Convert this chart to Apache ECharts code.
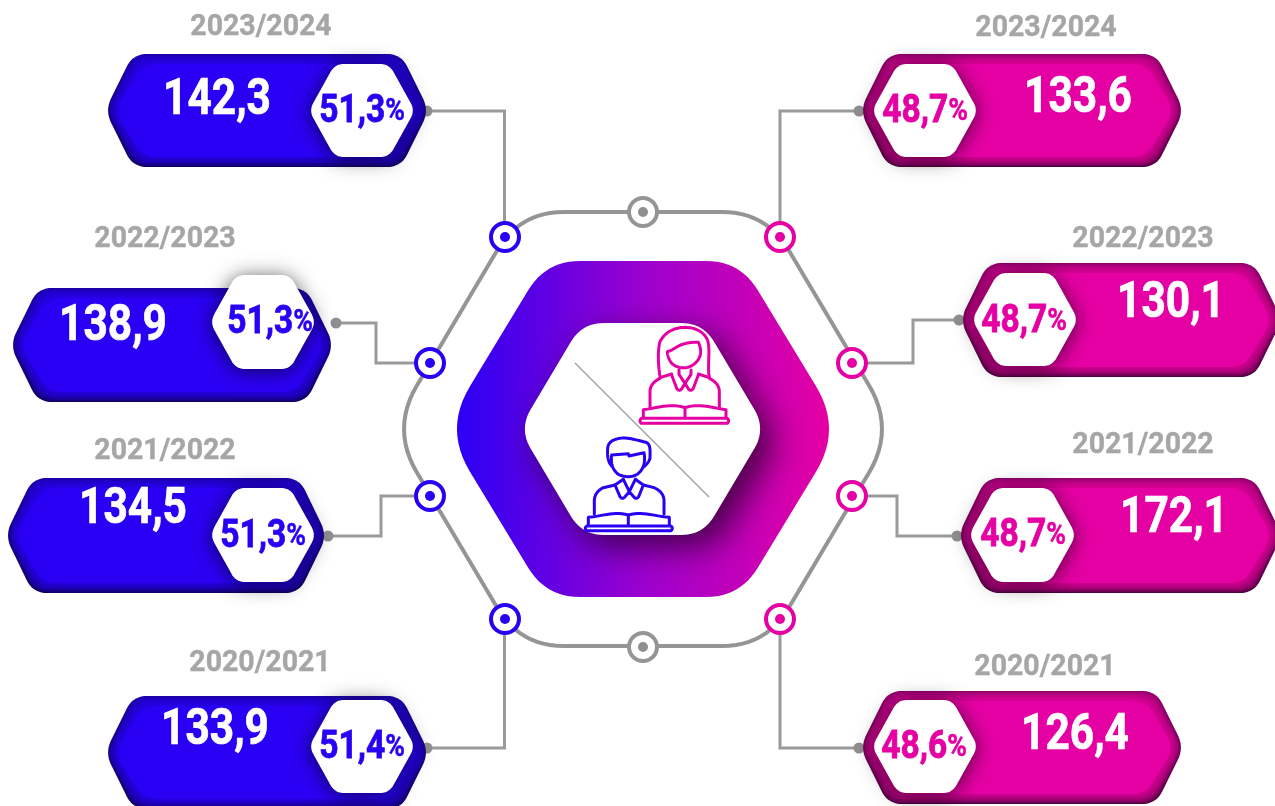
<!DOCTYPE html>
<html><head><meta charset="utf-8">
<style>html,body{margin:0;padding:0;background:#fff;overflow:hidden}#c{width:1275px;height:806px}</style>
<script src="https://cdn.jsdelivr.net/npm/echarts@6/dist/echarts.min.js"></script>
</head><body><div id="c"></div>
<script>
// ---- data ----
const years = ['2023/2024', '2022/2023', '2021/2022', '2020/2021'];
const blueValues = [142.3, 138.9, 134.5, 133.9];
const bluePercents = [51.3, 51.3, 51.3, 51.4];
const pinkValues = [133.6, 130.1, 172.1, 126.4];
const pinkPercents = [48.7, 48.7, 48.7, 48.6];

// ---- layout (boxes are x0,x1,y0,y1; centres are x,y) ----
const blueLayout = [
  {box:[108,426,54,167], hex:[311,413,64,157], val:[217,101], pct:[362,112], yr:[261,27]},
  {box:[13,331,288,402], hex:[212,314,275,369], val:[113,327], pct:[270,323], yr:[165,239]},
  {box:[8,324,478,593], hex:[212,314,488,582], val:[133,510], pct:[263,537], yr:[165,451]},
  {box:[108,426,696,809], hex:[311,413,700,793], val:[215,731], pct:[362,748], yr:[260,663]}
];
const pinkLayout = [
  {box:[863,1181,54,167], hex:[874,976,64,157], val:[1078,99], pct:[925,112], yr:[1046,28]},
  {box:[963,1279,263,377], hex:[974,1076,273,366], val:[1171,304], pct:[1024,322], yr:[1143,239]},
  {box:[961,1279,478,593], hex:[971,1074,488,582], val:[1174,519], pct:[1023,536], yr:[1143,445]},
  {box:[863,1181,691,804], hex:[874,976,700,793], val:[1075,736], pct:[924,748], yr:[1045,667]}
];
const BLUE = '#2a00f5', PINK = '#e500a3', GRAY = '#959595';

// ---- geometry helpers ----
function flatten(d) {
  const t = d.match(/[MLQCZ]|-?[\d.]+/g), subs = []; let cur = null, i = 0, cmd, p = [0,0];
  const n = () => +t[i++];
  while (i < t.length) {
    if (/[MLQCZ]/.test(t[i])) cmd = t[i++];
    if (cmd === 'M') { cur = []; subs.push(cur); p = [n(), n()]; cur.push(p); cmd = 'L'; }
    else if (cmd === 'L') { p = [n(), n()]; cur.push(p); }
    else if (cmd === 'Q') {
      const a = [n(),n()], b = [n(),n()], s = p;
      for (let k = 1; k <= 10; k++) { const u = k/10, v = 1-u; cur.push([v*v*s[0]+2*u*v*a[0]+u*u*b[0], v*v*s[1]+2*u*v*a[1]+u*u*b[1]]); }
      p = b;
    } else if (cmd === 'C') {
      const a = [n(),n()], b = [n(),n()], c = [n(),n()], s = p;
      for (let k = 1; k <= 14; k++) { const u = k/14, v = 1-u; cur.push([
        v*v*v*s[0]+3*u*v*v*a[0]+3*u*u*v*b[0]+u*u*u*c[0],
        v*v*v*s[1]+3*u*v*v*a[1]+3*u*u*v*b[1]+u*u*u*c[1]]); }
      p = c;
    } else if (cmd === 'Z') { cur.push(cur[0]); }
  }
  return subs;
}
function rounded(verts, ds) {
  const out = [], N = verts.length;
  for (let i = 0; i < N; i++) {
    const v = verts[i], a = verts[(i+N-1)%N], b = verts[(i+1)%N], d = ds[i];
    const la = Math.hypot(a[0]-v[0],a[1]-v[1]), lb = Math.hypot(b[0]-v[0],b[1]-v[1]);
    const s = [v[0]+(a[0]-v[0])*d/la, v[1]+(a[1]-v[1])*d/la], e = [v[0]+(b[0]-v[0])*d/lb, v[1]+(b[1]-v[1])*d/lb];
    for (let k = 0; k <= 12; k++) { const u = k/12, w = 1-u; out.push([w*w*s[0]+2*u*w*v[0]+u*u*e[0], w*w*s[1]+2*u*w*v[1]+u*u*e[1]]); }
  }
  return out;
}
function hexV(x0,x1,y0,y1,slant,over){
  const m=(y0+y1)/2, L=x0-over, R=x1+over;
  return [[L+slant,y0],[R-slant,y0],[R,m],[R-slant,y1],[L+slant,y1],[L,m]];
}
const panelPts = (b,i) => rounded(hexV(b[0]+i,b[1]-i,b[2]+i,b[3]-i,28,3),[14,14,14,14,14,14]);
const hexPts = h => rounded(hexV(h[0],h[1],h[2],h[3],26,2),[9,9,9,9,9,9]);

const fmt = v => v.toFixed(1).replace('.', ',');
function txt(x,y,text,size,fill,scale,sw){
  return {type:'text',x,y,scaleX:scale,scaleY:1,z2:25,silent:true,
    style:{x:0,y:0,text,fill,stroke:fill,lineWidth:sw,font:'700 '+size+'px Roboto',align:'center',verticalAlign:'middle'}};
}
function pctTxt(x,y,v,fill){
  return {type:'text',x,y,scaleX:0.86,scaleY:1,z2:26,silent:true,
    style:{x:0,y:0,text:'{a|'+fmt(v)+'}{b|%}',align:'center',verticalAlign:'middle',
      rich:{a:{font:'700 39px Roboto',fill:fill,stroke:fill,lineWidth:0.8,lineHeight:40,verticalAlign:'middle'},
            b:{font:'700 31px Roboto',fill:fill,stroke:fill,lineWidth:0.5,lineHeight:40,verticalAlign:'middle'}}}};
}
function panelSeries(name,values,percents,layout,col,darkTop,darkBot){
  return {type:'custom',name,coordinateSystem:'none',silent:true,animation:false,clip:false,z:3,
    data:values.map((v,i)=>({value:[v,percents[i]],name:years[i]})),
    renderItem(params){
      const i=params.dataIndex, L=layout[i], b=L.box, kids=[];
      kids.push({type:'polygon',shape:{points:panelPts(b,0)},z2:1,
        style:{fill:new echarts.graphic.LinearGradient(0,0,0,1,[{offset:0,color:darkTop},{offset:1,color:darkBot}])}});
      // soft inner bevel: stacked translucent insets
      for(let k=1;k<=10;k++) kids.push({type:'polygon',shape:{points:panelPts(b,k)},z2:1+k,
        style:{fill:col,opacity:k==10?1:0.17}});
      kids.push({type:'polygon',shape:{points:hexPts(L.hex)},z2:15,
        style:{fill:'#fff',shadowBlur:20,shadowOffsetY:2,shadowColor:'rgba(0,0,0,0.65)'}});
      kids.push(txt(L.yr[0],L.yr[1],years[i],30,'#a6a6a6',0.95,0.4));
      kids.push(txt(L.val[0],L.val[1],fmt(values[i]),50,'#fff',0.85,0.7));
      kids.push(pctTxt(L.pct[0],L.pct[1],percents[i],col));
      return {type:'group',children:kids};
    }};
}

// ---- centre ----
const g=[];
const line=(pts,stroke,lw)=>g.push({type:'polyline',shape:{points:pts},silent:true,style:{stroke,lineWidth:lw,fill:null,lineJoin:'miter'}});
const leaders=[
  [[427,111],[504.5,111],[504.5,237]],[[336,323],[376,323],[376,363],[430,363]],
  [[328,536],[381,536],[381,496],[430,496]],[[427,748],[504.5,748],[504.5,619]],
  [[859,111],[780,111],[780,237]],[[959,320],[913,320],[913,363],[852,363]],
  [[957,536],[897,536],[897,496],[852,496]],[[859,748],[780,748],[780,619]]
];
leaders.forEach(p=>{line(p,'#9a9a9a',3);g.push({type:'circle',shape:{cx:p[0][0],cy:p[0][1],r:5.5},silent:true,style:{fill:'#8f8f8f'}});});
g.push({type:'polygon',silent:true,shape:{points:rounded([[520,212],[766,212],[895,429],[766,646],[520,646],[391,429]],[44,44,51,44,44,51])},
  style:{fill:null,stroke:GRAY,lineWidth:4}});
g.push({type:'polygon',silent:true,shape:{points:rounded([[546,261],[740,261],[842,429],[740,597],[546,597],[444,429]],[34,34,50,34,34,50])},
  style:{fill:new echarts.graphic.LinearGradient(0,0,1,0,[{offset:0,color:BLUE},{offset:0.5,color:'#9c00cf'},{offset:1,color:PINK}])}});
g.push({type:'polygon',silent:true,shape:{points:rounded([[582,323],[703,323],[766,429],[703,535],[582,535],[519,429]],[22,22,23,22,22,23])},
  style:{fill:'#fff',shadowBlur:34,shadowOffsetX:12,shadowOffsetY:12,shadowColor:'rgba(30,0,30,0.75)'}});
g.push({type:'line',silent:true,shape:{x1:575,y1:363,x2:709,y2:497},style:{stroke:'#9a9a9a',lineWidth:1.2}});
const marks=[[505,237,BLUE],[430,363,BLUE],[430,496,BLUE],[505,619,BLUE],[780,237,PINK],[852,363,PINK],[852,496,PINK],[780,619,PINK],[643,212,GRAY],[643,647,GRAY]];
marks.forEach(m=>{
  g.push({type:'circle',silent:true,shape:{cx:m[0],cy:m[1],r:14},style:{fill:'#fff',stroke:m[2],lineWidth:4}});
  g.push({type:'circle',silent:true,shape:{cx:m[0],cy:m[1],r:5},style:{fill:m[2]==GRAY?'#8f8f8f':m[2]}});
});
const woman=[
 'M270 200 C262 150 265 110 270 95 C285 65 315 52 345 52 C380 52 410 70 415 100 C420 130 412 170 418 203',
 'M292 125 C320 117 325 96 385 97 C396 120 395 142 375 160 C355 178 325 178 305 160 C296 148 292 135 292 125 Z',
 'M270 203 L305 192 M418 203 L385 192 M327 180 L327 193 L345 220 L363 193 L363 180',
 'M305 195 L320 235 Q328 247 336 235 L345 220 L354 235 Q362 247 370 235 L385 195',
 'M270 205 Q240 220 240 245 L240 295 M418 205 Q448 220 448 245 L448 295',
 'M220 322 L220 299 C260 295 300 278 345 293 C390 278 430 295 468 299 L468 322 M345 293 L345 322',
 'M214 325 L472 325 Q480 333 472 340 L214 340 Q206 333 214 325 Z'];
const man=[
 'M125 468 C112 455 112 430 113 415 C115 395 130 388 150 385 C175 381 205 392 228 397 C243 402 240 425 240 445 Q236 458 222 470',
 'M125 435 L175 431 L177 438 L222 428 C226 450 224 475 205 490 C190 503 165 503 145 493 C125 478 122 455 125 435 Z',
 'M160 508 L178 545 L196 508 M160 508 L135 525 L150 560 Q157 570 165 560 L178 545 L191 560 Q198 570 206 560 L220 525 L196 508',
 'M135 525 L100 533 Q75 545 73 570 L73 612 M220 525 L252 533 Q280 545 282 570 L282 612',
 'M55 645 L55 622 C90 620 130 603 175 615 C220 603 260 620 298 622 L298 645 M175 615 L175 645',
 'M50 648 L303 648 Q311 655 303 662 L50 662 Q42 655 50 648 Z'];
function icon(paths,col){
  paths.forEach(d=>flatten(d).forEach(s=>g.push({type:'polyline',silent:true,
    shape:{points:s.map(p=>[570+p[0]/3,310+p[1]/3])},style:{stroke:col,lineWidth:3,fill:null,lineJoin:'round',lineCap:'round'}})));
}
icon(woman,PINK); icon(man,BLUE);

const chart=echarts.init(document.getElementById('c'),null,{renderer:'canvas'});
chart.setOption({
  animation:false,backgroundColor:'#fff',
  graphic:{elements:g},
  series:[
    panelSeries('Blue',blueValues,bluePercents,blueLayout,BLUE,'#1c00a8','#100060'),
    panelSeries('Pink',pinkValues,pinkPercents,pinkLayout,PINK,'#90006a','#500040')
  ]
});
</script></body></html>
